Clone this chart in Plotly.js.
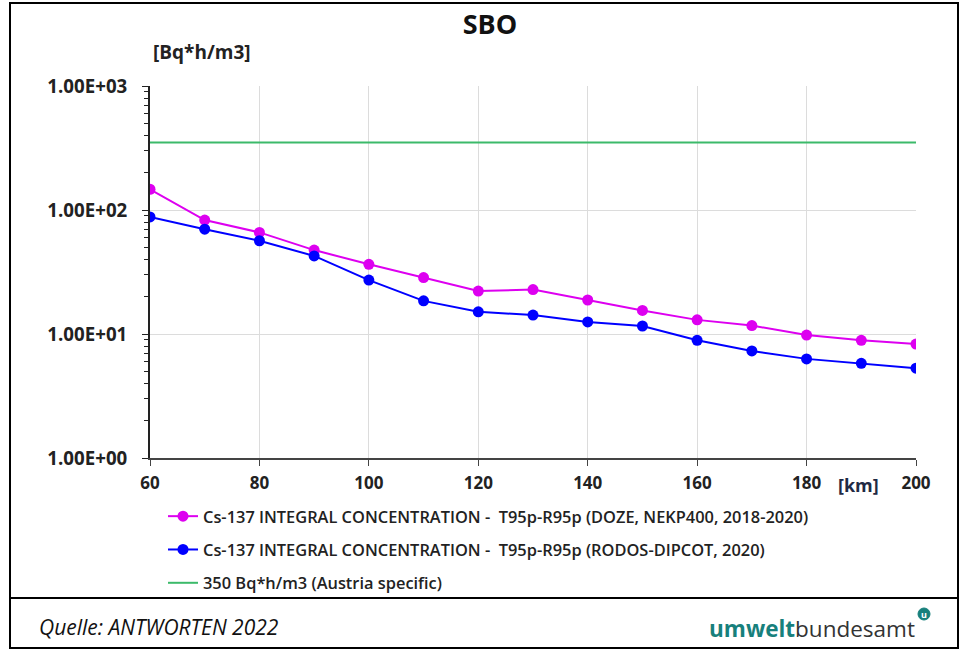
<!DOCTYPE html>
<html>
<head>
<meta charset="utf-8">
<script src="https://cdn.plot.ly/plotly-3.0.1.min.js"></script>
<style>
html,body{margin:0;padding:0;background:#fff;}
#chart{width:962px;height:651px;}
</style>
</head>
<body>
<div id="chart"></div>
<script>
var distanceKm = [60, 70, 80, 90, 100, 110, 120, 130, 140, 150, 160, 170, 180, 190, 200];
var dozeNekp = [147, 83, 66, 47.5, 36.5, 28.5, 22.2, 22.8, 18.8, 15.5, 13.0, 11.7, 9.8, 8.9, 8.3];
var rodosDipcot = [88, 70, 56.5, 42.6, 27.2, 18.5, 15.1, 14.2, 12.5, 11.6, 8.9, 7.3, 6.3, 5.8, 5.3];
var austriaLimit = 350;
var seriesNames = [
  "Cs-137 INTEGRAL CONCENTRATION -  T95p-R95p (DOZE, NEKP400, 2018-2020)",
  "Cs-137 INTEGRAL CONCENTRATION -  T95p-R95p (RODOS-DIPCOT, 2020)",
  "350 Bq*h/m3 (Austria specific)"
];
var yTickVals = [1, 10, 100, 1000];
var yTickText = ["1.00E+00", "1.00E+01", "1.00E+02", "1.00E+03"];
var xTickVals = [60, 80, 100, 120, 140, 160, 180, 200];

var FONT = "'Open Sans', 'Noto Sans', sans-serif";

// minor log ticks 2..9 in each decade
var minorVals = [];
for (var d = 0; d < yTickVals.length - 1; d++) {
  for (var m = 2; m <= 9; m++) minorVals.push(m * yTickVals[d]);
}

// plot area in pixels: x 150..916, y 86..458
var L = 150, R = 916, T = 86, B = 458, W = 962, H = 651;
function px(x){ return (x - L) / (R - L); }
function py(y){ return (B - y) / (B - T); }

var traces = [
  {
    x: distanceKm, y: dozeNekp, name: seriesNames[0], type: "scatter", mode: "lines+markers",
    line: {color: "#dd00f0", width: 2}, marker: {color: "#dd00f0", size: 11},
    legendgroup: "a"
  },
  {
    x: distanceKm, y: rodosDipcot, name: seriesNames[1], type: "scatter", mode: "lines+markers",
    line: {color: "#0000ff", width: 2}, marker: {color: "#0000ff", size: 11},
    legendgroup: "b"
  },
  {
    x: [distanceKm[0], distanceKm[distanceKm.length - 1]], y: [austriaLimit, austriaLimit],
    name: seriesNames[2], type: "scatter", mode: "lines",
    line: {color: "#3cba6a", width: 2}, legendgroup: "c"
  }
];

var layout = {
  width: W, height: H,
  margin: {l: L, r: W - R, t: T, b: H - B, pad: 0},
  paper_bgcolor: "#ffffff", plot_bgcolor: "#ffffff",
  font: {family: FONT, color: "#222"},
  title: {
    text: "<b>SBO</b>", font: {family: FONT, size: 27, color: "#111"},
    x: 490 / W, xref: "container", xanchor: "center",
    y: 1 - 25 / H, yref: "container", yanchor: "middle"
  },
  showlegend: true,
  legend: {
    x: px(163), y: py(499), xanchor: "left", yanchor: "top",
    orientation: "v", traceorder: "grouped", tracegroupgap: 9,
    font: {family: FONT, size: 16.4, color: "#222", weight: 600},
    bgcolor: "rgba(0,0,0,0)"
  },
  xaxis: {
    type: "linear", range: [60, 200],
    tickvals: xTickVals, ticktext: xTickVals.map(String),
    tickfont: {family: FONT, size: 17, color: "#222", weight: "bold"},
    showgrid: true, gridcolor: "#dcdcdc", gridwidth: 1,
    showline: true, linecolor: "#444", linewidth: 1.5,
    ticks: "outside", ticklen: 6, tickcolor: "#444",
    ticklabelstandoff: 3,
    zeroline: false, fixedrange: true
  },
  yaxis: {
    type: "log", range: [0, 3],
    tickvals: yTickVals, ticktext: yTickText,
    tickfont: {family: FONT, size: 18.7, color: "#222", weight: "bold"},
    showgrid: true, gridcolor: "#dcdcdc", gridwidth: 1,
    showline: true, linecolor: "#222", linewidth: 2,
    ticks: "outside", ticklen: 6, tickcolor: "#222",
    minor: {tickvals: minorVals, ticks: "outside", ticklen: 4, tickcolor: "#222", showgrid: false},
    ticklabelstandoff: 11,
    zeroline: false, fixedrange: true
  },
  annotations: [
    {text: "<b>[Bq*h/m3]</b>", xref: "paper", yref: "paper", x: px(202), y: py(52),
     xanchor: "center", yanchor: "middle", showarrow: false,
     font: {family: FONT, size: 19, color: "#222"}},
    {text: "<b>[km]</b>", xref: "paper", yref: "paper", x: px(858), y: py(485),
     xanchor: "center", yanchor: "middle", showarrow: false,
     font: {family: FONT, size: 18, color: "#1f2a44"}},
    {text: "<i>Quelle: ANTWORTEN 2022</i>", xref: "paper", yref: "paper", x: px(37), y: py(627),
     xanchor: "left", yanchor: "middle", showarrow: false,
     font: {family: FONT, size: 21, color: "#111"}},
    {text: "<span style='color:#17807c'><b>umwelt</b></span><span style='color:#333'>bundesamt</span>",
     xref: "paper", yref: "paper", x: px(917), y: py(628),
     xanchor: "right", yanchor: "middle", showarrow: false,
     font: {family: FONT, size: 22.5, color: "#333"}},
    {text: "<b>u</b>", xref: "paper", yref: "paper", x: px(924), y: py(614),
     xanchor: "center", yanchor: "middle", showarrow: false,
     font: {family: FONT, size: 9, color: "#ffffff"}}
  ],
  shapes: [
    {type: "rect", xref: "paper", yref: "paper", x0: px(10), x1: px(958), y0: py(648), y1: py(3),
     line: {color: "#000", width: 2}, fillcolor: "rgba(0,0,0,0)", layer: "above"},
    {type: "line", xref: "paper", yref: "paper", x0: px(10), x1: px(958), y0: py(598), y1: py(598),
     line: {color: "#000", width: 2}},
    {type: "circle", xref: "paper", yref: "paper", x0: px(918), x1: px(930), y0: py(620), y1: py(608),
     line: {color: "#17807c", width: 1}, fillcolor: "#17807c"}
  ]
};

Plotly.newPlot("chart", traces, layout, {displayModeBar: false, staticPlot: true});
</script>
</body>
</html>
